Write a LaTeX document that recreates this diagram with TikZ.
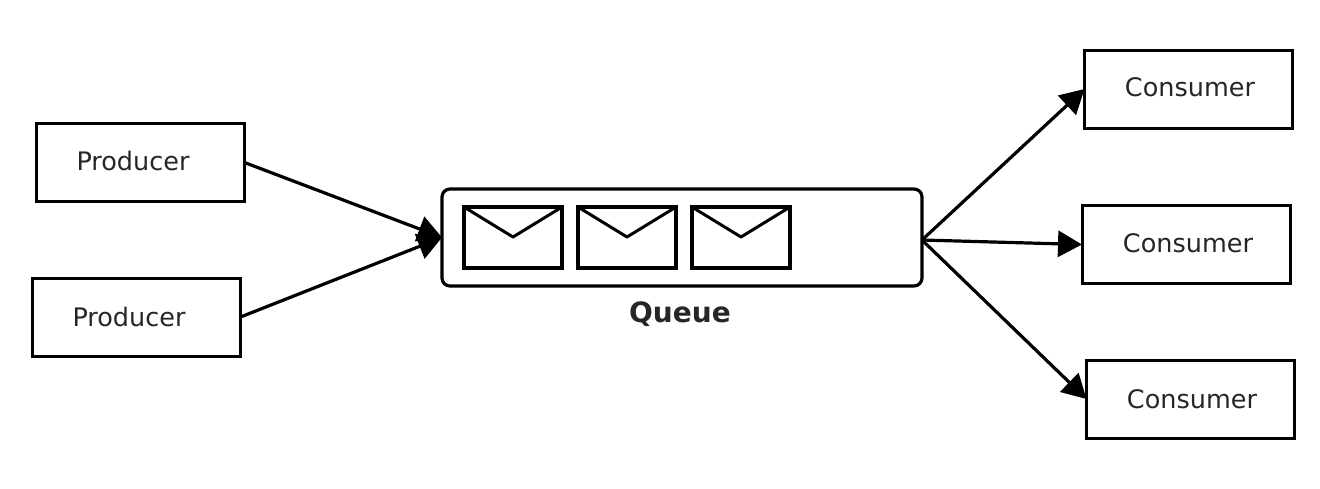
\documentclass[tikz,border=0pt]{standalone}
\usepackage{fontspec}
\setmainfont{DejaVu Sans}
\usetikzlibrary{arrows.meta}
\begin{document}
\begin{tikzpicture}[x=1pt,y=-1pt,
 box/.style={draw=black,line width=3pt,minimum width=208pt,minimum height=78pt,inner sep=0pt,outer sep=0pt,anchor=center},
 lbl/.style={font=\fontsize{25.5}{30}\selectfont,text=black!85,inner sep=0pt},
 arrow/.style={draw=black,line width=3.2pt,-{Triangle[length=24pt,width=26pt]}},
 env/.style={draw=black,line width=3.4pt,outer sep=0pt}]
\useasboundingbox (0,0) rectangle (1320,488);
\node[box] (p1) at (140.5,162.5) {};
\node[box] (p2) at (136.5,317) {};
\node[box] (c1) at (1188.5,89) {};
\node[box] (c2) at (1186,244.5) {};
\node[box] (c3) at (1190.5,399) {};
\node[lbl] (tp1) at (133,161) {Producer};
\node[lbl] (tp2) at (129,317) {Producer};
\node[lbl] (tc1) at (1190,87) {Consumer};
\node[lbl] (tc2) at (1188,243) {Consumer};
\node[lbl] (tc3) at (1192,399) {Consumer};
\node[draw=black,line width=3.2pt,rounded corners=8pt,outer sep=0pt,minimum width=480pt,minimum height=97pt,inner sep=0pt] (q) at (682,237.5) {};
\node[font=\bfseries\fontsize{28}{32}\selectfont,text=black!85,inner sep=0pt] (ql) at (680,314) {Queue};
\foreach \x/\n in {513/e1,627/e2,741/e3}{
 \node[env,minimum width=98pt,minimum height=61pt,inner sep=0pt] (\n) at (\x,237.5) {};
 \draw[line width=3pt,line join=round] (\n.north west) -- ++(49,30) -- (\n.north east);
}
\coordinate (qin) at (q.west);
\coordinate[yshift=-2.5pt] (qout) at (q.east);
\draw[arrow] (p1.east) -- (qin);
\draw[arrow] (p2.east) -- (qin);
\draw[arrow] (qout) -- (c1.west);
\draw[arrow] (qout) -- (c2.west);
\draw[arrow] (qout) -- (c3.west);
\end{tikzpicture}
\end{document}
